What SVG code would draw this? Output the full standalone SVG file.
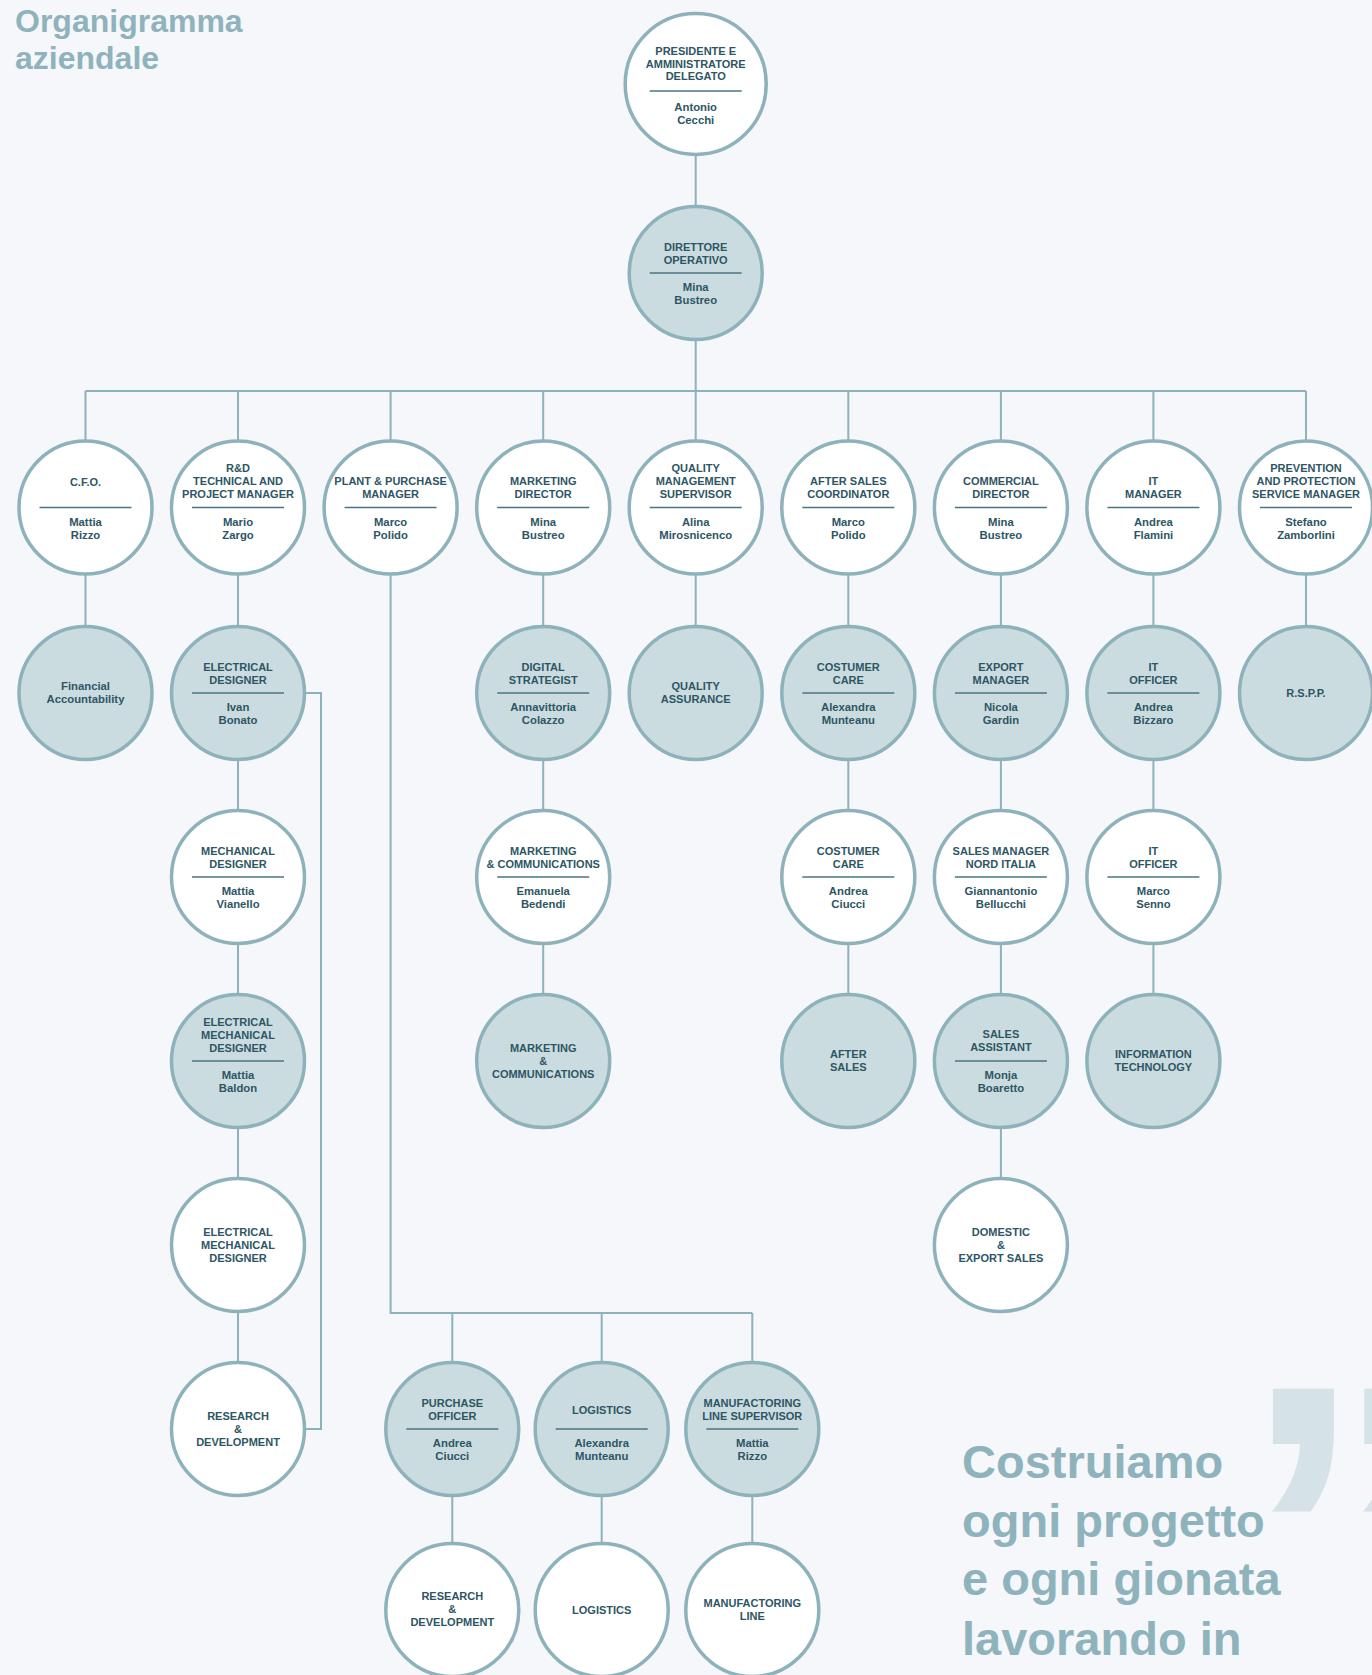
<svg xmlns="http://www.w3.org/2000/svg" width="1372" height="1675" viewBox="0 0 1372 1675">
<style>
.bg{fill:#f5f7fa}
.c{stroke:#8db2bc;stroke-width:3.5}
.w{fill:#ffffff}
.d{fill:#cbdce1}
.sp{stroke:#4a7482;stroke-width:1.3}
.tt{font-family:"Liberation Sans",Arial,sans-serif;font-weight:bold;font-size:11px;fill:#2d5664;text-anchor:middle}
.nm{font-family:"Liberation Sans",Arial,sans-serif;font-weight:bold;font-size:11.3px;fill:#2d5664;text-anchor:middle}
.cn{fill:none;stroke:#8db2bc;stroke-width:2}
.big{font-family:"Liberation Sans",Arial,sans-serif;font-weight:bold;fill:#8fb3bd}
</style>
<rect class="bg" x="0" y="0" width="1372" height="1675"/>
<text class="big" font-size="32" x="15" y="32">Organigramma</text>
<text class="big" font-size="32" x="15" y="69">aziendale</text>
<text id="quote-mark" font-family="Liberation Sans,Arial,sans-serif" font-weight="bold" font-size="435" fill="#d5e2e7" x="1240" y="1688">”</text>
<g id="quote">
<text class="big" font-size="47" x="962" y="1478">Costruiamo</text>
<text class="big" font-size="47" x="962" y="1537">ogni progetto</text>
<text class="big" font-size="47" x="962" y="1595">e ogni gionata</text>
<text class="big" font-size="47" x="962" y="1655">lavorando in</text>
</g>
<g id="connectors" class="cn">
<path d="M695.7 84V391"/>
<path d="M85.5 391H1306"/>
<path d="M85.5 391V693"/>
<path d="M238 391V1429"/>
<path d="M390.6 391V1313H752.3"/>
<path d="M452.3 1313V1610M601.7 1313V1610M752.3 1313V1610"/>
<path d="M543.2 391V1061"/>
<path d="M695.7 391V693"/>
<path d="M848.3 391V1061"/>
<path d="M1000.9 391V1245"/>
<path d="M1153.4 391V1061"/>
<path d="M1306 391V693"/>
<path d="M304 693H321V1429H304"/>
</g>
<g id="n-presidente">
<circle class="c w" cx="695.7" cy="84" r="70.5"/>
<text class="tt" x="695.7" y="55">PRESIDENTE E</text>
<text class="tt" x="695.7" y="67.5">AMMINISTRATORE</text>
<text class="tt" x="695.7" y="80">DELEGATO</text>
<line class="sp" x1="649.7" y1="91" x2="741.7" y2="91"/>
<text class="nm" font-size="12.5" x="695.7" y="110.5">Antonio</text>
<text class="nm" font-size="12.5" x="695.7" y="124">Cecchi</text>
</g>
<g id="n-direttore">
<circle class="c d" cx="695.7" cy="273" r="66.5"/>
<text class="tt" x="695.7" y="250.8">DIRETTORE</text>
<text class="tt" x="695.7" y="263.8">OPERATIVO</text>
<line class="sp" x1="649.7" y1="273" x2="741.7" y2="273"/>
<text class="nm" x="695.7" y="291">Mina</text>
<text class="nm" x="695.7" y="304">Bustreo</text>
</g>
<!-- Row 1 -->
<g id="n-cfo">
<circle class="c w" cx="85.5" cy="507.5" r="66.5"/>
<text class="tt" x="85.5" y="485.5">C.F.O.</text>
<line class="sp" x1="39.5" y1="507.5" x2="131.5" y2="507.5"/>
<text class="nm" x="85.5" y="525.5">Mattia</text>
<text class="nm" x="85.5" y="538.5">Rizzo</text>
</g>
<g id="n-rd-manager">
<circle class="c w" cx="238" cy="507.5" r="66.5"/>
<text class="tt" x="238" y="472.3">R&amp;D</text>
<text class="tt" x="238" y="485.3">TECHNICAL AND</text>
<text class="tt" x="238" y="498.3">PROJECT MANAGER</text>
<line class="sp" x1="192" y1="507.5" x2="284" y2="507.5"/>
<text class="nm" x="238" y="525.5">Mario</text>
<text class="nm" x="238" y="538.5">Zargo</text>
</g>
<g id="n-plant">
<circle class="c w" cx="390.6" cy="507.5" r="66.5"/>
<text class="tt" x="390.6" y="485.3">PLANT &amp; PURCHASE</text>
<text class="tt" x="390.6" y="498.3">MANAGER</text>
<line class="sp" x1="344.6" y1="507.5" x2="436.6" y2="507.5"/>
<text class="nm" x="390.6" y="525.5">Marco</text>
<text class="nm" x="390.6" y="538.5">Polido</text>
</g>
<g id="n-marketing-director">
<circle class="c w" cx="543.2" cy="507.5" r="66.5"/>
<text class="tt" x="543.2" y="485.3">MARKETING</text>
<text class="tt" x="543.2" y="498.3">DIRECTOR</text>
<line class="sp" x1="497.2" y1="507.5" x2="589.2" y2="507.5"/>
<text class="nm" x="543.2" y="525.5">Mina</text>
<text class="nm" x="543.2" y="538.5">Bustreo</text>
</g>
<g id="n-quality-supervisor">
<circle class="c w" cx="695.7" cy="507.5" r="66.5"/>
<text class="tt" x="695.7" y="472.3">QUALITY</text>
<text class="tt" x="695.7" y="485.3">MANAGEMENT</text>
<text class="tt" x="695.7" y="498.3">SUPERVISOR</text>
<line class="sp" x1="649.7" y1="507.5" x2="741.7" y2="507.5"/>
<text class="nm" x="695.7" y="525.5">Alina</text>
<text class="nm" x="695.7" y="538.5">Mirosnicenco</text>
</g>
<g id="n-after-sales-coord">
<circle class="c w" cx="848.3" cy="507.5" r="66.5"/>
<text class="tt" x="848.3" y="485.3">AFTER SALES</text>
<text class="tt" x="848.3" y="498.3">COORDINATOR</text>
<line class="sp" x1="802.3" y1="507.5" x2="894.3" y2="507.5"/>
<text class="nm" x="848.3" y="525.5">Marco</text>
<text class="nm" x="848.3" y="538.5">Polido</text>
</g>
<g id="n-commercial-director">
<circle class="c w" cx="1000.9" cy="507.5" r="66.5"/>
<text class="tt" x="1000.9" y="485.3">COMMERCIAL</text>
<text class="tt" x="1000.9" y="498.3">DIRECTOR</text>
<line class="sp" x1="954.9" y1="507.5" x2="1046.9" y2="507.5"/>
<text class="nm" x="1000.9" y="525.5">Mina</text>
<text class="nm" x="1000.9" y="538.5">Bustreo</text>
</g>
<g id="n-it-manager">
<circle class="c w" cx="1153.4" cy="507.5" r="66.5"/>
<text class="tt" x="1153.4" y="485.3">IT</text>
<text class="tt" x="1153.4" y="498.3">MANAGER</text>
<line class="sp" x1="1107.4" y1="507.5" x2="1199.4" y2="507.5"/>
<text class="nm" x="1153.4" y="525.5">Andrea</text>
<text class="nm" x="1153.4" y="538.5">Flamini</text>
</g>
<g id="n-prevention">
<circle class="c w" cx="1306" cy="507.5" r="66.5"/>
<text class="tt" x="1306" y="472.3">PREVENTION</text>
<text class="tt" x="1306" y="485.3">AND PROTECTION</text>
<text class="tt" x="1306" y="498.3">SERVICE MANAGER</text>
<line class="sp" x1="1260" y1="507.5" x2="1352" y2="507.5"/>
<text class="nm" x="1306" y="525.5">Stefano</text>
<text class="nm" x="1306" y="538.5">Zamborlini</text>
</g>
<!-- Row 2 -->
<g id="n-financial">
<circle class="c d" cx="85.5" cy="693" r="66.5"/>
<text class="nm" x="85.5" y="690.4">Financial</text>
<text class="nm" x="85.5" y="703.4">Accountability</text>
</g>
<g id="n-electrical-designer">
<circle class="c d" cx="238" cy="693" r="66.5"/>
<text class="tt" x="238" y="670.8">ELECTRICAL</text>
<text class="tt" x="238" y="683.8">DESIGNER</text>
<line class="sp" x1="192" y1="693" x2="284" y2="693"/>
<text class="nm" x="238" y="711">Ivan</text>
<text class="nm" x="238" y="724">Bonato</text>
</g>
<g id="n-digital-strategist">
<circle class="c d" cx="543.2" cy="693" r="66.5"/>
<text class="tt" x="543.2" y="670.8">DIGITAL</text>
<text class="tt" x="543.2" y="683.8">STRATEGIST</text>
<line class="sp" x1="497.2" y1="693" x2="589.2" y2="693"/>
<text class="nm" x="543.2" y="711">Annavittoria</text>
<text class="nm" x="543.2" y="724">Colazzo</text>
</g>
<g id="n-quality-assurance">
<circle class="c d" cx="695.7" cy="693" r="66.5"/>
<text class="tt" x="695.7" y="690.4">QUALITY</text>
<text class="tt" x="695.7" y="703.4">ASSURANCE</text>
</g>
<g id="n-costumer-care-1">
<circle class="c d" cx="848.3" cy="693" r="66.5"/>
<text class="tt" x="848.3" y="670.8">COSTUMER</text>
<text class="tt" x="848.3" y="683.8">CARE</text>
<line class="sp" x1="802.3" y1="693" x2="894.3" y2="693"/>
<text class="nm" x="848.3" y="711">Alexandra</text>
<text class="nm" x="848.3" y="724">Munteanu</text>
</g>
<g id="n-export-manager">
<circle class="c d" cx="1000.9" cy="693" r="66.5"/>
<text class="tt" x="1000.9" y="670.8">EXPORT</text>
<text class="tt" x="1000.9" y="683.8">MANAGER</text>
<line class="sp" x1="954.9" y1="693" x2="1046.9" y2="693"/>
<text class="nm" x="1000.9" y="711">Nicola</text>
<text class="nm" x="1000.9" y="724">Gardin</text>
</g>
<g id="n-it-officer-1">
<circle class="c d" cx="1153.4" cy="693" r="66.5"/>
<text class="tt" x="1153.4" y="670.8">IT</text>
<text class="tt" x="1153.4" y="683.8">OFFICER</text>
<line class="sp" x1="1107.4" y1="693" x2="1199.4" y2="693"/>
<text class="nm" x="1153.4" y="711">Andrea</text>
<text class="nm" x="1153.4" y="724">Bizzaro</text>
</g>
<g id="n-rspp">
<circle class="c d" cx="1306" cy="693" r="66.5"/>
<text class="tt" x="1306" y="696.9">R.S.P.P.</text>
</g>
<!-- Row 3 -->
<g id="n-mechanical-designer">
<circle class="c w" cx="238" cy="877" r="66.5"/>
<text class="tt" x="238" y="854.8">MECHANICAL</text>
<text class="tt" x="238" y="867.8">DESIGNER</text>
<line class="sp" x1="192" y1="877" x2="284" y2="877"/>
<text class="nm" x="238" y="895">Mattia</text>
<text class="nm" x="238" y="908">Vianello</text>
</g>
<g id="n-marketing-comm-1">
<circle class="c w" cx="543.2" cy="877" r="66.5"/>
<text class="tt" x="543.2" y="854.8">MARKETING</text>
<text class="tt" x="543.2" y="867.8">&amp; COMMUNICATIONS</text>
<line class="sp" x1="497.2" y1="877" x2="589.2" y2="877"/>
<text class="nm" x="543.2" y="895">Emanuela</text>
<text class="nm" x="543.2" y="908">Bedendi</text>
</g>
<g id="n-costumer-care-2">
<circle class="c w" cx="848.3" cy="877" r="66.5"/>
<text class="tt" x="848.3" y="854.8">COSTUMER</text>
<text class="tt" x="848.3" y="867.8">CARE</text>
<line class="sp" x1="802.3" y1="877" x2="894.3" y2="877"/>
<text class="nm" x="848.3" y="895">Andrea</text>
<text class="nm" x="848.3" y="908">Ciucci</text>
</g>
<g id="n-sales-manager">
<circle class="c w" cx="1000.9" cy="877" r="66.5"/>
<text class="tt" x="1000.9" y="854.8">SALES MANAGER</text>
<text class="tt" x="1000.9" y="867.8">NORD ITALIA</text>
<line class="sp" x1="954.9" y1="877" x2="1046.9" y2="877"/>
<text class="nm" x="1000.9" y="895">Giannantonio</text>
<text class="nm" x="1000.9" y="908">Bellucchi</text>
</g>
<g id="n-it-officer-2">
<circle class="c w" cx="1153.4" cy="877" r="66.5"/>
<text class="tt" x="1153.4" y="854.8">IT</text>
<text class="tt" x="1153.4" y="867.8">OFFICER</text>
<line class="sp" x1="1107.4" y1="877" x2="1199.4" y2="877"/>
<text class="nm" x="1153.4" y="895">Marco</text>
<text class="nm" x="1153.4" y="908">Senno</text>
</g>
<!-- Row 4 -->
<g id="n-el-mech-designer-1">
<circle class="c d" cx="238" cy="1061" r="66.5"/>
<text class="tt" x="238" y="1025.8">ELECTRICAL</text>
<text class="tt" x="238" y="1038.8">MECHANICAL</text>
<text class="tt" x="238" y="1051.8">DESIGNER</text>
<line class="sp" x1="192" y1="1061" x2="284" y2="1061"/>
<text class="nm" x="238" y="1079">Mattia</text>
<text class="nm" x="238" y="1092">Baldon</text>
</g>
<g id="n-marketing-comm-2">
<circle class="c d" cx="543.2" cy="1061" r="66.5"/>
<text class="tt" x="543.2" y="1051.9">MARKETING</text>
<text class="tt" x="543.2" y="1064.9">&amp;</text>
<text class="tt" x="543.2" y="1077.9">COMMUNICATIONS</text>
</g>
<g id="n-after-sales">
<circle class="c d" cx="848.3" cy="1061" r="66.5"/>
<text class="tt" x="848.3" y="1058.4">AFTER</text>
<text class="tt" x="848.3" y="1071.4">SALES</text>
</g>
<g id="n-sales-assistant">
<circle class="c d" cx="1000.9" cy="1061" r="66.5"/>
<text class="tt" x="1000.9" y="1037.8">SALES</text>
<text class="tt" x="1000.9" y="1050.8">ASSISTANT</text>
<line class="sp" x1="954.9" y1="1061" x2="1046.9" y2="1061"/>
<text class="nm" x="1000.9" y="1079">Monja</text>
<text class="nm" x="1000.9" y="1092">Boaretto</text>
</g>
<g id="n-information-technology">
<circle class="c d" cx="1153.4" cy="1061" r="66.5"/>
<text class="tt" x="1153.4" y="1058.4">INFORMATION</text>
<text class="tt" x="1153.4" y="1071.4">TECHNOLOGY</text>
</g>
<!-- Row 5 -->
<g id="n-el-mech-designer-2">
<circle class="c w" cx="238" cy="1245" r="66.5"/>
<text class="tt" x="238" y="1235.9">ELECTRICAL</text>
<text class="tt" x="238" y="1248.9">MECHANICAL</text>
<text class="tt" x="238" y="1261.9">DESIGNER</text>
</g>
<g id="n-domestic-export">
<circle class="c w" cx="1000.9" cy="1245" r="66.5"/>
<text class="tt" x="1000.9" y="1235.9">DOMESTIC</text>
<text class="tt" x="1000.9" y="1248.9">&amp;</text>
<text class="tt" x="1000.9" y="1261.9">EXPORT SALES</text>
</g>
<!-- Row 6 -->
<g id="n-research-1">
<circle class="c w" cx="238" cy="1429" r="66.5"/>
<text class="tt" x="238" y="1419.9">RESEARCH</text>
<text class="tt" x="238" y="1432.9">&amp;</text>
<text class="tt" x="238" y="1445.9">DEVELOPMENT</text>
</g>
<g id="n-purchase-officer">
<circle class="c d" cx="452.3" cy="1429" r="66.5"/>
<text class="tt" x="452.3" y="1406.8">PURCHASE</text>
<text class="tt" x="452.3" y="1419.8">OFFICER</text>
<line class="sp" x1="406.3" y1="1429" x2="498.3" y2="1429"/>
<text class="nm" x="452.3" y="1447">Andrea</text>
<text class="nm" x="452.3" y="1460">Ciucci</text>
</g>
<g id="n-logistics-1">
<circle class="c d" cx="601.7" cy="1429" r="66.5"/>
<text class="tt" x="601.7" y="1414">LOGISTICS</text>
<line class="sp" x1="555.7" y1="1429" x2="647.7" y2="1429"/>
<text class="nm" x="601.7" y="1447">Alexandra</text>
<text class="nm" x="601.7" y="1460">Munteanu</text>
</g>
<g id="n-manufactoring-supervisor">
<circle class="c d" cx="752.3" cy="1429" r="66.5"/>
<text class="tt" x="752.3" y="1406.8">MANUFACTORING</text>
<text class="tt" x="752.3" y="1419.8">LINE SUPERVISOR</text>
<line class="sp" x1="706.3" y1="1429" x2="798.3" y2="1429"/>
<text class="nm" x="752.3" y="1447">Mattia</text>
<text class="nm" x="752.3" y="1460">Rizzo</text>
</g>
<!-- Row 7 -->
<g id="n-research-2">
<circle class="c w" cx="452.3" cy="1610" r="66.5"/>
<text class="tt" x="452.3" y="1600">RESEARCH</text>
<text class="tt" x="452.3" y="1613">&amp;</text>
<text class="tt" x="452.3" y="1626">DEVELOPMENT</text>
</g>
<g id="n-logistics-2">
<circle class="c w" cx="601.7" cy="1610" r="66.5"/>
<text class="tt" x="601.7" y="1613.9">LOGISTICS</text>
</g>
<g id="n-manufactoring-line">
<circle class="c w" cx="752.3" cy="1610" r="66.5"/>
<text class="tt" x="752.3" y="1607.4">MANUFACTORING</text>
<text class="tt" x="752.3" y="1620.4">LINE</text>
</g>
</svg>
